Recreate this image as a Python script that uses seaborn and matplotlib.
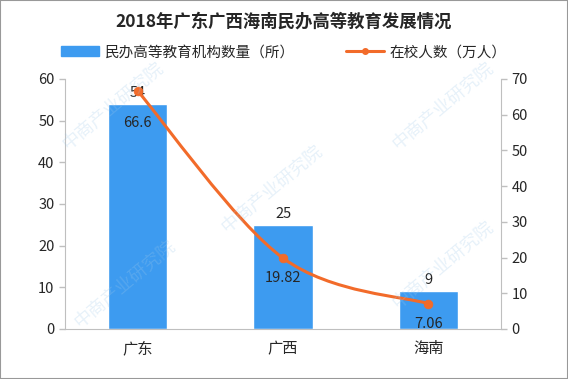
import numpy as np
import pandas as pd
import matplotlib
matplotlib.use('Agg')
import matplotlib.pyplot as plt
from matplotlib.path import Path
from matplotlib.patches import PathPatch, Rectangle
from matplotlib.lines import Line2D
import seaborn as sns

# 数据
provinces = ['广东', '广西', '海南']
institutions = [54, 25, 9]           # 民办高等教育机构数量（所）
students = [66.6, 19.82, 7.06]       # 在校人数（万人）

bar_color = '#3D9BF0'
line_color = '#F26B2A'
grey = '#BFBFBF'

sns.set_style('white')
plt.rcParams['font.family'] = ['Noto Sans CJK SC', 'DejaVu Sans']

df = pd.DataFrame({'省份': provinces, '机构数量': institutions, '在校人数': students})

fig = plt.figure(figsize=(5.68, 3.79), dpi=100)
ax = fig.add_axes([0.1144, 0.132, 0.768, 0.66])

sns.barplot(data=df, x='省份', y='机构数量', color=bar_color, width=0.41,
            saturation=1, ax=ax)
ax.set_ylim(0, 60)
ax.set_yticks(range(0, 61, 10))
ax.set_xlim(-0.5, 2.5)
ax.set_xlabel('')
ax.set_ylabel('')

# 柱子标签
for i, v in enumerate(institutions):
    ax.annotate(str(v), (i, v), xytext=(0, 4), textcoords='offset pixels',
                ha='center', va='bottom', fontsize=10.5)

# 右轴：在校人数，平滑曲线
ax2 = ax.twinx()
ax2.set_ylim(0, 70)
ax2.set_yticks(range(0, 71, 10))
x = np.arange(len(students))
y = np.array(students)
verts = [(x[0], y[0])]
codes = [Path.MOVETO]
for i in range(len(x) - 1):
    p0 = (x[i - 1], y[i - 1]) if i > 0 else (x[i], y[i])
    p3 = (x[i + 2], y[i + 2]) if i + 2 < len(x) else (x[i + 1], y[i + 1])
    c1 = (x[i] + (x[i + 1] - p0[0]) / 6, y[i] + (y[i + 1] - p0[1]) / 6)
    c2 = (x[i + 1] - (p3[0] - x[i]) / 6, y[i + 1] - (p3[1] - y[i]) / 6)
    verts += [c1, c2, (x[i + 1], y[i + 1])]
    codes += [Path.CURVE4] * 3
ax2.add_patch(PathPatch(Path(verts, codes), facecolor='none', edgecolor=line_color,
                        lw=2.2, zorder=3))
sns.scatterplot(x=x, y=y, color=line_color, s=40, edgecolor=line_color, ax=ax2, zorder=4)
offsets = [-32, -20, -20]
for xi, v, off in zip(x, students, offsets):
    ax2.annotate(f'{v:g}', (xi, v), xytext=(0, off), textcoords='offset pixels',
                 ha='center', va='center', fontsize=10.5)

# 轴样式
for a in (ax, ax2):
    for s in a.spines.values():
        s.set_visible(False)
    a.tick_params(axis='both', length=4, color=grey, labelsize=10.5, width=1)
ax.spines['left'].set_visible(True)
ax.spines['left'].set_color(grey)
ax.spines['bottom'].set_visible(True)
ax.spines['bottom'].set_color(grey)
ax2.spines['right'].set_visible(True)
ax2.spines['right'].set_color(grey)
ax.tick_params(axis='x', length=0, labelsize=11, pad=8)
ax.set_xticks([0.5, 1.5], minor=True)
ax.tick_params(axis='x', which='minor', length=4, color=grey)
ax.tick_params(axis='y', left=True)
ax2.tick_params(axis='y', right=True)

# 标题与图例
fig.text(0.5, 0.943, '2018年广东广西海南民办高等教育发展情况', ha='center', va='center',
         fontsize=12.5, fontweight='bold')
handles = [Rectangle((0, 0), 1, 1, color=bar_color),
           Line2D([0], [0], color=line_color, lw=2.2, marker='o', markersize=4)]
fig.legend(handles, ['民办高等教育机构数量（所）', '在校人数（万人）'], loc='center',
           bbox_to_anchor=(0.5, 0.862), ncol=2, frameon=False, fontsize=10.5,
           handlelength=2.6, columnspacing=3.5, handletextpad=0.4)

# 水印
for wx, wy in [(0.2, 0.72), (0.48, 0.5), (0.78, 0.3), (0.22, 0.25), (0.78, 0.72)]:
    fig.text(wx, wy, '中商产业研究院', rotation=40, fontsize=13, color='#9FC9EA',
             alpha=0.25, ha='center', va='center', zorder=0)

fig.patches.append(Rectangle((0, 0), 1, 1, transform=fig.transFigure, fill=False,
                             edgecolor='#999999', lw=1.5))
fig.savefig('out.png', dpi=100)
